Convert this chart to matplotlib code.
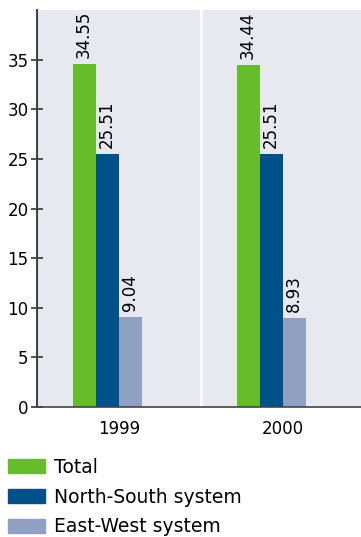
import matplotlib.pyplot as plt
from matplotlib.patches import Patch

years = ['1999', '2000']
series = ['Total', 'North-South system', 'East-West system']
total = [34.55, 34.44]
north_south = [25.51, 25.51]
east_west = [9.04, 8.93]
colors = ['#66bd2b', '#00508a', '#8fa0c3']

plt.rcParams['font.family'] = ['DejaVu Sans']

fig = plt.figure(figsize=(3.61, 5.37), dpi=100)
ax = fig.add_axes([37 / 361, 130 / 537, 324 / 361, 397 / 537])
ax.set_facecolor('#e8e9f0')

x = [0, 1]
width = 0.14
offset = -0.073
for i, (vals, col) in enumerate(zip([total, north_south, east_west], colors)):
    pos = [xi + offset + (i - 1) * width for xi in x]
    bars = ax.bar(pos, vals, width=width, color=col, label=series[i])
    for b, v in zip(bars, vals):
        ax.text(b.get_x() + b.get_width() / 2, v + 0.6, f'{v:.2f}',
                rotation=90, ha='center', va='bottom', fontsize=12)

# white divider between the two years
ax.axvline(0.5, color='white', lw=2)

ax.set_xlim(-0.5, 1.475)
ax.set_ylim(0, 40)
ax.set_yticks(range(0, 36, 5))
ax.set_xticks(x)
ax.set_xticklabels(years)
ax.tick_params(axis='y', direction='inout', length=9, width=1.2,
               color='#333333', labelsize=12, pad=1.5)
ax.tick_params(axis='x', length=0, labelsize=12, pad=9)

for s in ['top', 'right']:
    ax.spines[s].set_visible(False)
ax.spines['left'].set_linewidth(1.5)
ax.spines['left'].set_color('#444444')
ax.spines['bottom'].set_linewidth(1.2)
ax.spines['bottom'].set_color('#444444')

handles = [Patch(color=c) for c in colors]
fig.legend(handles, series, loc='upper left', bbox_to_anchor=(4 / 361, 83 / 537),
           frameon=False, fontsize=13.5, handlelength=2.0, handleheight=0.74,
           handletextpad=0.45, labelspacing=0.58, borderpad=0.2,
           borderaxespad=0.0)

fig.savefig('out.png', dpi=100)
